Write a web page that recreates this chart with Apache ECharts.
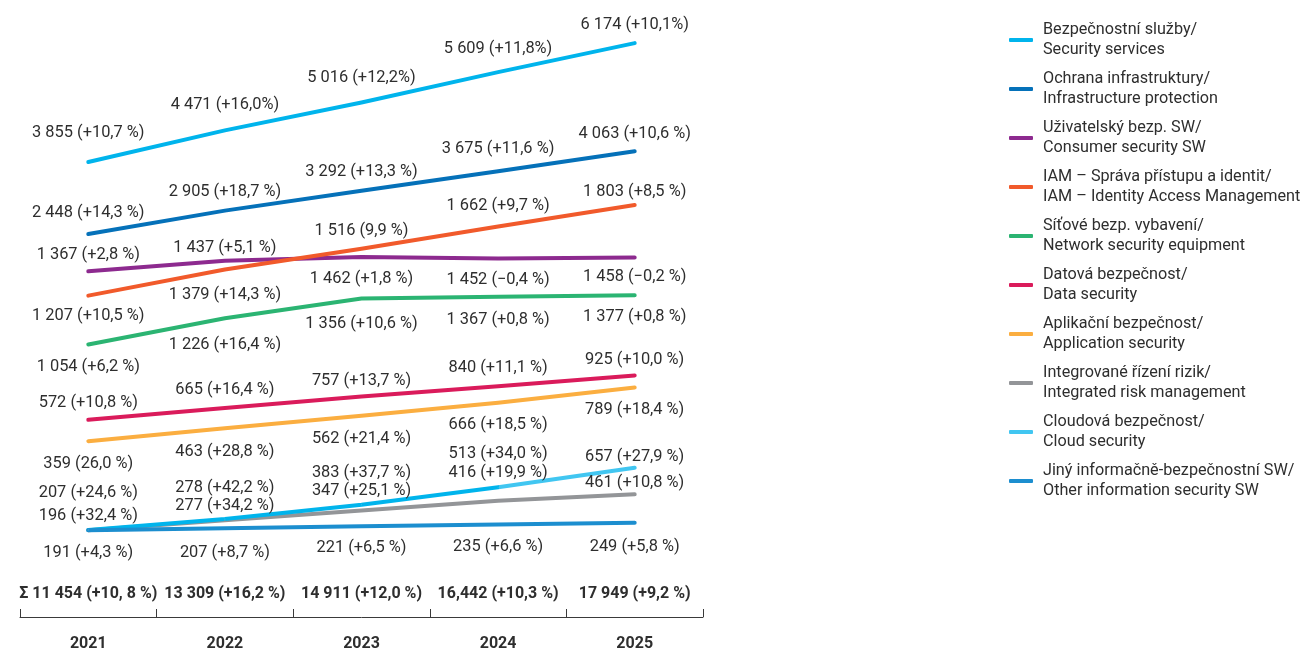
<!DOCTYPE html>
<html>
<head>
<meta charset="utf-8">
<script src="https://cdn.jsdelivr.net/npm/echarts@6/dist/echarts.min.js"></script>
<style>
html,body{margin:0;padding:0;background:#fff;}
#chart{width:1307px;height:652px;}
</style>
</head>
<body>
<div id="chart"></div>
<script>
// ---- data ----
const years = ['2021', '2022', '2023', '2024', '2025'];
const totals = ['Σ 11 454 (+10, 8 %)', '13 309 (+16,2 %)', '14 911 (+12,0 %)', '16,442 (+10,3 %)', '17 949 (+9,2 %)'];

const securityServices = [3855, 4471, 5016, 5609, 6174];
const securityServicesGrowth = ['+10,7 %', '+16,0%', '+12,2%', '+11,8%', '+10,1%'];
const infrastructure = [2448, 2905, 3292, 3675, 4063];
const infrastructureGrowth = ['+14,3 %', '+18,7 %', '+13,3 %', '+11,6 %', '+10,6 %'];
const consumerSW = [1367, 1437, 1462, 1452, 1458];
const consumerSWGrowth = ['+2,8 %', '+5,1 %', '+1,8 %', '−0,4 %', '−0,2 %'];
const iam = [1207, 1379, 1516, 1662, 1803];
const iamGrowth = ['+10,5 %', '+14,3 %', '9,9 %', '+9,7 %', '+8,5 %'];
const network = [1054, 1226, 1356, 1367, 1377];
const networkGrowth = ['+6,2 %', '+16,4 %', '+10,6 %', '+0,8 %', '+0,8 %'];
const dataSec = [572, 665, 757, 840, 925];
const dataSecGrowth = ['+10,8 %', '+16,4 %', '+13,7 %', '+11,1 %', '+10,0 %'];
const appSec = [359, 463, 562, 666, 789];
const appSecGrowth = ['26,0 %', '+28,8 %', '+21,4 %', '+18,5 %', '+18,4 %'];
const riskMgmt = [207, 277, 347, 416, 461];
const riskMgmtGrowth = ['+24,6 %', '+34,2 %', '+25,1 %', '+19,9 %', '+10,8 %'];
const cloudSec = [196, 278, 383, 513, 657];
const cloudSecGrowth = ['+32,4 %', '+42,2 %', '+37,7 %', '+34,0 %', '+27,9 %'];
const otherSW = [191, 207, 221, 235, 249];
const otherSWGrowth = ['+4,3 %', '+8,7 %', '+6,5 %', '+6,6 %', '+5,8 %'];

// ---- layout (hidden per-group value scales and label offsets) ----
const yScales = [
  [-5026, 6821], // 0 security services + infrastructure
  [-908, 3087],  // 1 consumer SW + IAM
  [-740, 3255],  // 2 network
  [-1004, 3845], // 3 data
  [-1048, 3809], // 4 application
  [-409, 3896],  // 5 risk
  [-446, 4039],  // 6 cloud
  [-493, 4288]   // 7 other
];

function fmt(v) {
  if (v >= 1000) {
    const r = String(v % 1000).padStart(3, '0');
    return Math.floor(v / 1000) + ' ' + r;
  }
  return String(v);
}

const defs = [
  {name: 'Bezpečnostní služby/\nSecurity services', data: securityServices, growth: securityServicesGrowth, color: '#00b4ec', y: 0, off: [-29, -25, -25, -23, -18]},
  {name: 'Ochrana infrastruktury/\nInfrastructure protection', data: infrastructure, growth: infrastructureGrowth, color: '#0571b9', y: 0, off: [-21, -19, -19, -22, -17]},
  {name: 'Uživatelský bezp. SW/\nConsumer security SW', data: consumerSW, growth: consumerSWGrowth, color: '#8d2a8f', y: 1, off: [-16, -13, 22, 21, 19]},
  {name: 'IAM – Správa přístupu a identit/\nIAM – Identity Access Management', data: iam, growth: iamGrowth, color: '#f15a2b', y: 1, off: [20, 25, -18, -21, -13]},
  {name: 'Síťové bezp. vybavení/\nNetwork security equipment', data: network, growth: networkGrowth, color: '#2bb472', y: 2, off: [22, 27, 25, 23, 22]},
  {name: 'Datová bezpečnost/\nData security', data: dataSec, growth: dataSecGrowth, color: '#da1b5b', y: 3, off: [-17, -18, -16, -18, -16]},
  {name: 'Aplikační bezpečnost/\nApplication security', data: appSec, growth: appSecGrowth, color: '#fbae40', y: 4, off: [23, 24, 23, 22, 22]},
  {name: 'Integrované řízení rizik/\nIntegrated risk management', data: riskMgmt, growth: riskMgmtGrowth, color: '#939598', y: 5, off: [-37, -14, -19, -28, -11]},
  {name: 'Cloudová bezpečnost/\nCloud security', data: cloudSec, growth: cloudSecGrowth, color: '#41c6f1', y: 6, off: [-14, -31, -32, -33, -11],
    line: {type: 'linear', x: 0, y: 0, x2: 1, y2: 0, colorStops: [
      {offset: 0, color: '#00b4ec'}, {offset: 0.75, color: '#00b4ec'},
      {offset: 0.75, color: '#41c6f1'}, {offset: 1, color: '#41c6f1'}]}},
  {name: 'Jiný informačně-bezpečnostní SW/\nOther information security SW', data: otherSW, growth: otherSWGrowth, color: '#1c8ecf', y: 7, off: [23, 25, 22, 22, 24]}
];

const FONT = 'Roboto, "Noto Sans", sans-serif';
const TXT = '#2e2e2e';

const series = defs.map(d => ({
  type: 'line',
  name: d.name,
  xAxisIndex: 0,
  yAxisIndex: d.y,
  symbol: 'circle',
  symbolSize: 1,
  showSymbol: true,
  itemStyle: {color: d.color},
  lineStyle: {width: 4, cap: 'round', join: 'round', color: d.line || d.color},
  emphasis: {disabled: true},
  data: d.data.map((v, i) => ({
    value: v,
    label: {offset: [0, d.off[i]]}
  })),
  label: {
    show: true,
    position: 'inside',
    color: TXT,
    fontFamily: FONT,
    fontSize: 16.4,
    formatter: p => fmt(p.value) + ' (' + d.growth[p.dataIndex] + ')'
  }
}));

const chart = echarts.init(document.getElementById('chart'), null, {renderer: 'canvas'});
chart.setOption({
  animation: false,
  backgroundColor: '#ffffff',
  textStyle: {fontFamily: FONT},
  grid: {left: 20, right: 604, top: 10, bottom: 32},
  legend: {
    orient: 'vertical',
    left: 1009,
    top: 20,
    padding: 0,
    itemGap: 9,
    itemWidth: 24,
    itemHeight: 4,
    icon: 'roundRect',
    selectedMode: false,
    textStyle: {color: TXT, fontSize: 16.2, lineHeight: 20, fontFamily: FONT, padding: [0, 0, 0, 5]},
    data: defs.map(d => ({name: d.name, itemStyle: {color: d.color}}))
  },
  xAxis: [
    {
      type: 'category',
      data: years,
      position: 'bottom',
      axisLine: {show: true, onZero: false, lineStyle: {color: '#3a3a3a', width: 1}},
      axisTick: {show: true, inside: true, length: 8, lineStyle: {color: '#3a3a3a'}},
      axisLabel: {color: TXT, fontSize: 16, fontWeight: 'bold', fontFamily: FONT, margin: 19, interval: 0},
      splitLine: {show: false}
    },
    {
      type: 'category',
      data: totals,
      position: 'bottom',
      axisLine: {show: false, onZero: false},
      axisTick: {show: false},
      axisLabel: {inside: true, color: TXT, fontSize: 16, fontWeight: 'bold', fontFamily: FONT, margin: 15, interval: 0},
      splitLine: {show: false}
    }
  ],
  yAxis: yScales.map(s => ({type: 'value', show: false, min: s[0], max: s[1], splitLine: {show: false}})),
  series: series
});
</script>
</body>
</html>
